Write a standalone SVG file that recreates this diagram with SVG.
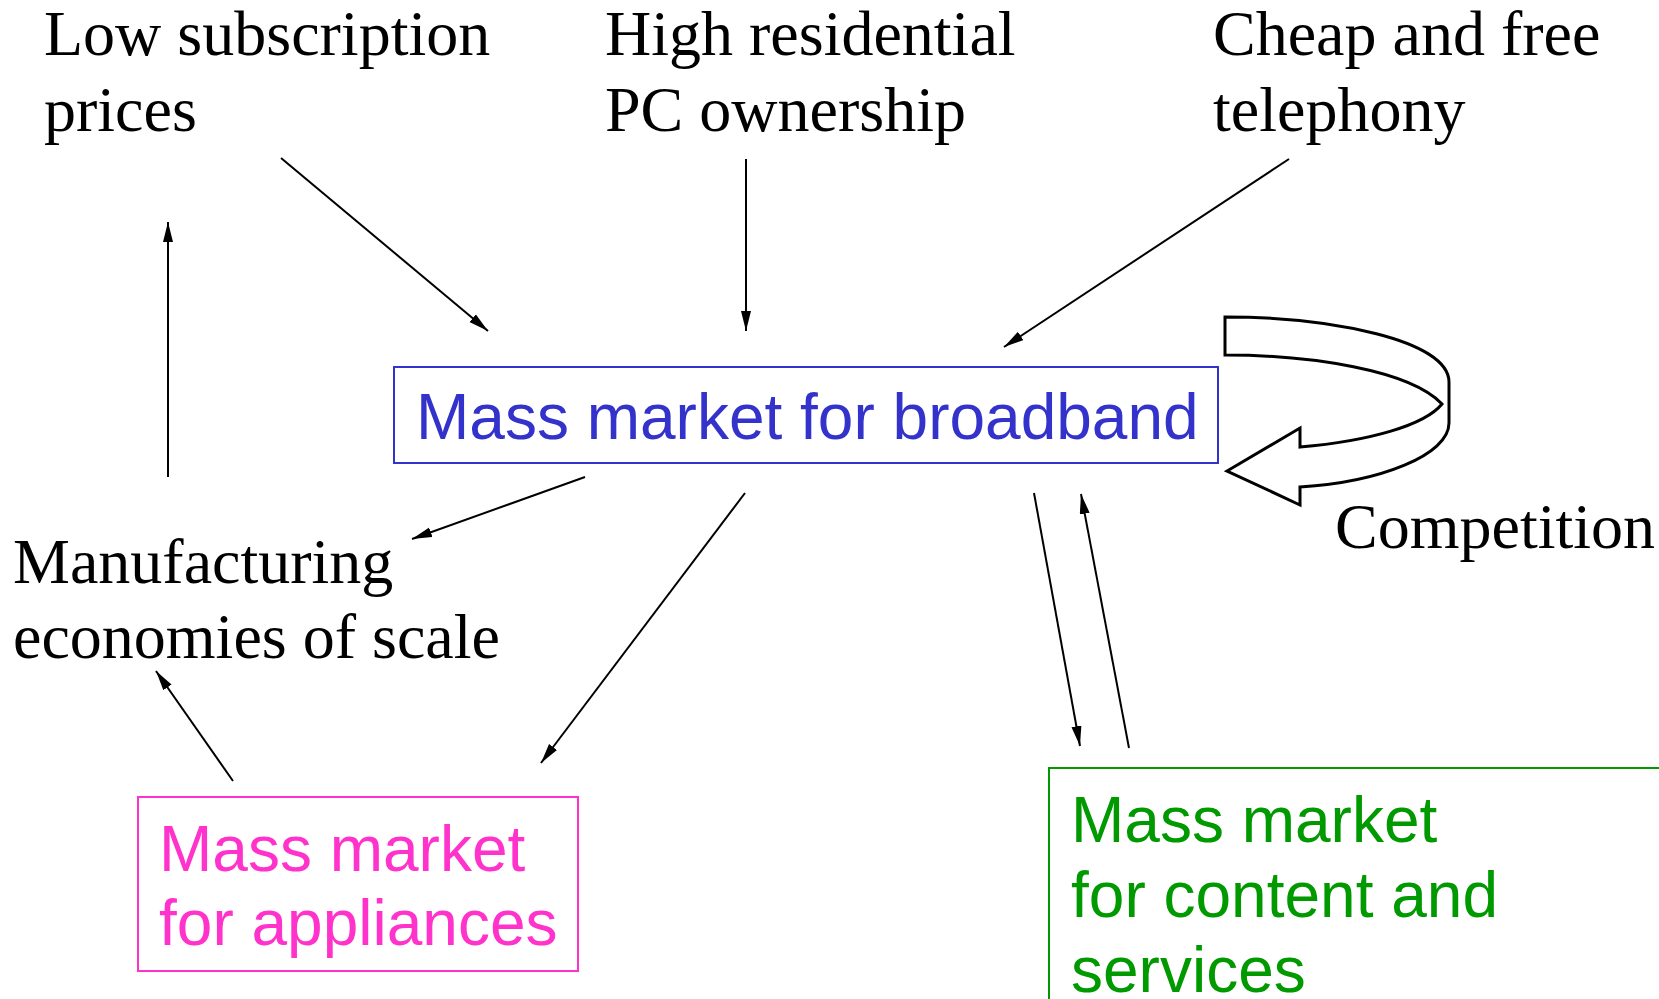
<svg xmlns="http://www.w3.org/2000/svg" width="1659" height="999" viewBox="0 0 1659 999">
<defs>
<marker id="ah" markerUnits="userSpaceOnUse" markerWidth="22" markerHeight="12" refX="20" refY="5" orient="auto">
<path d="M0,0 L20,5 L0,10 z" fill="#000"/>
</marker>
<style>
.serif{font-family:"Liberation Serif","Times New Roman",serif;font-size:64px;fill:#000}
.sans{font-family:"Liberation Sans",Arial,sans-serif;font-size:64px}
.conn line{stroke:#000;stroke-width:2;marker-end:url(#ah)}
</style>
</defs>
<rect width="1659" height="999" fill="#fff"/>
<g id="low-prices"><text class="serif" x="44" y="55">Low subscription</text><text class="serif" x="44" y="131">prices</text></g>
<g id="pc-ownership"><text class="serif" x="605" y="55">High residential</text><text class="serif" x="605" y="131">PC ownership</text></g>
<g id="telephony"><text class="serif" x="1213" y="55">Cheap and free</text><text class="serif" x="1213" y="131">telephony</text></g>
<g id="manufacturing"><text class="serif" x="13" y="583">Manufacturing</text><text class="serif" x="13" y="658">economies of scale</text></g>
<g id="broadband"><rect x="394" y="367" width="824" height="96" fill="none" stroke="#3333cc" stroke-width="2"/><text class="sans" x="416" y="439" fill="#3333cc">Mass market for broadband</text></g>
<g id="appliances"><rect x="138" y="797" width="440" height="174" fill="none" stroke="#ff33cc" stroke-width="2"/><text class="sans" x="159" y="871" fill="#ff33cc">Mass market</text><text class="sans" x="159" y="945" fill="#ff33cc">for appliances</text></g>
<g id="content"><rect x="1049" y="768" width="640" height="260" fill="none" stroke="#009900" stroke-width="2"/><text class="sans" x="1071" y="842" fill="#009900">Mass market</text><text class="sans" x="1071" y="917" fill="#009900">for content and</text><text class="sans" x="1071" y="992" fill="#009900">services</text></g>
<g id="competition"><path d="M1225,317 C1330,317 1449,340 1449,382 L1449,423 C1449,455 1380,482 1300,487 L1300,505 L1227,471 L1300,428 L1300,447 C1370,441 1425,425 1442,404 C1410,370 1310,355 1225,355 Z" fill="#fff" stroke="#000" stroke-width="3" stroke-linejoin="miter"/><text class="serif" x="1335" y="548">Competition</text></g>
<g id="connectors" class="conn">
<line x1="281" y1="158" x2="488" y2="331"/>
<line x1="746" y1="159" x2="746" y2="331"/>
<line x1="1289" y1="159" x2="1004" y2="347"/>
<line x1="585" y1="477" x2="412" y2="539"/>
<line x1="745" y1="493" x2="541" y2="763"/>
<line x1="233" y1="781" x2="156" y2="671"/>
<line x1="168" y1="477" x2="168" y2="222"/>
<line x1="1034" y1="493" x2="1080" y2="746"/>
<line x1="1129" y1="748" x2="1081" y2="494"/>
</g>
</svg>
